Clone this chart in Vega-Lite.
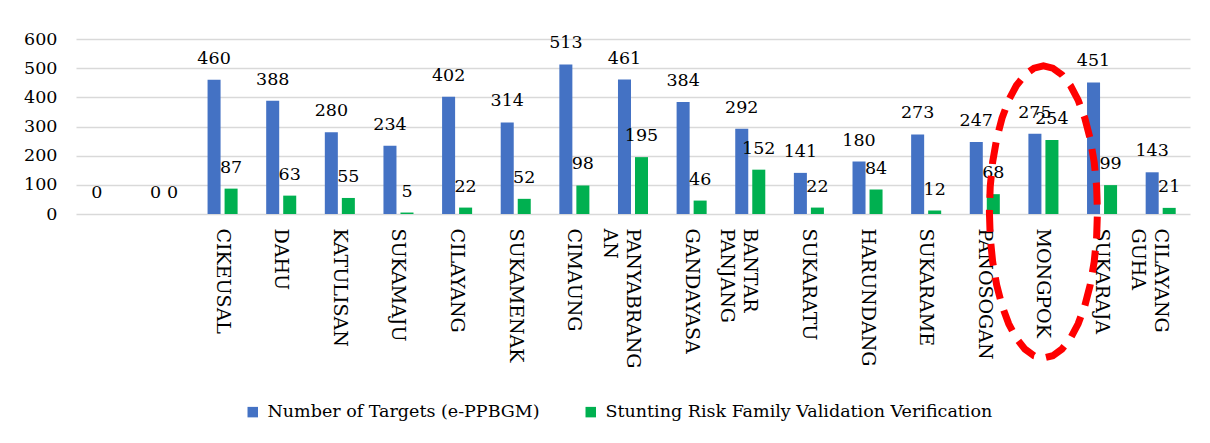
{
  "$schema": "https://vega.github.io/schema/vega-lite/v6.json",
  "width": 1114,
  "height": 175,
  "autosize": {"type": "none"},
  "padding": {"left": 76, "top": 39, "right": 20, "bottom": 229},
  "background": "white",
  "config": {
    "view": {"stroke": null},
    "font": "DejaVu Serif"
  },
  "datasets": {
    "bars": [
      {"village": "_1", "series": "Number of Targets (e-PPBGM)", "value": 0},
      {"village": "_1", "series": "Stunting Risk Family Validation Verification", "value": null},
      {"village": "_2", "series": "Number of Targets (e-PPBGM)", "value": 0},
      {"village": "_2", "series": "Stunting Risk Family Validation Verification", "value": 0},
      {"village": "CIKEUSAL", "series": "Number of Targets (e-PPBGM)", "value": 460},
      {"village": "CIKEUSAL", "series": "Stunting Risk Family Validation Verification", "value": 87},
      {"village": "DAHU", "series": "Number of Targets (e-PPBGM)", "value": 388},
      {"village": "DAHU", "series": "Stunting Risk Family Validation Verification", "value": 63},
      {"village": "KATULISAN", "series": "Number of Targets (e-PPBGM)", "value": 280},
      {"village": "KATULISAN", "series": "Stunting Risk Family Validation Verification", "value": 55},
      {"village": "SUKAMAJU", "series": "Number of Targets (e-PPBGM)", "value": 234},
      {"village": "SUKAMAJU", "series": "Stunting Risk Family Validation Verification", "value": 5},
      {"village": "CILAYANG", "series": "Number of Targets (e-PPBGM)", "value": 402},
      {"village": "CILAYANG", "series": "Stunting Risk Family Validation Verification", "value": 22},
      {"village": "SUKAMENAK", "series": "Number of Targets (e-PPBGM)", "value": 314},
      {"village": "SUKAMENAK", "series": "Stunting Risk Family Validation Verification", "value": 52},
      {"village": "CIMAUNG", "series": "Number of Targets (e-PPBGM)", "value": 513},
      {"village": "CIMAUNG", "series": "Stunting Risk Family Validation Verification", "value": 98},
      {"village": "PANYABRANGAN", "series": "Number of Targets (e-PPBGM)", "value": 461},
      {"village": "PANYABRANGAN", "series": "Stunting Risk Family Validation Verification", "value": 195},
      {"village": "GANDAYASA", "series": "Number of Targets (e-PPBGM)", "value": 384},
      {"village": "GANDAYASA", "series": "Stunting Risk Family Validation Verification", "value": 46},
      {"village": "BANTAR PANJANG", "series": "Number of Targets (e-PPBGM)", "value": 292},
      {"village": "BANTAR PANJANG", "series": "Stunting Risk Family Validation Verification", "value": 152},
      {"village": "SUKARATU", "series": "Number of Targets (e-PPBGM)", "value": 141},
      {"village": "SUKARATU", "series": "Stunting Risk Family Validation Verification", "value": 22},
      {"village": "HARUNDANG", "series": "Number of Targets (e-PPBGM)", "value": 180},
      {"village": "HARUNDANG", "series": "Stunting Risk Family Validation Verification", "value": 84},
      {"village": "SUKARAME", "series": "Number of Targets (e-PPBGM)", "value": 273},
      {"village": "SUKARAME", "series": "Stunting Risk Family Validation Verification", "value": 12},
      {"village": "PANOSOGAN", "series": "Number of Targets (e-PPBGM)", "value": 247},
      {"village": "PANOSOGAN", "series": "Stunting Risk Family Validation Verification", "value": 68},
      {"village": "MONGPOK", "series": "Number of Targets (e-PPBGM)", "value": 275},
      {"village": "MONGPOK", "series": "Stunting Risk Family Validation Verification", "value": 254},
      {"village": "SUKARAJA", "series": "Number of Targets (e-PPBGM)", "value": 451},
      {"village": "SUKARAJA", "series": "Stunting Risk Family Validation Verification", "value": 99},
      {"village": "CILAYANG GUHA", "series": "Number of Targets (e-PPBGM)", "value": 143},
      {"village": "CILAYANG GUHA", "series": "Stunting Risk Family Validation Verification", "value": 21}
    ],
    "highlight": [
      {"village": "MONGPOK", "value": 7}
    ]
  },
  "encoding": {
    "x": {
      "field": "village",
      "type": "nominal",
      "sort": ["_1", "_2", "CIKEUSAL", "DAHU", "KATULISAN", "SUKAMAJU", "CILAYANG", "SUKAMENAK", "CIMAUNG", "PANYABRANGAN", "GANDAYASA", "BANTAR PANJANG", "SUKARATU", "HARUNDANG", "SUKARAME", "PANOSOGAN", "MONGPOK", "SUKARAJA", "CILAYANG GUHA"],
      "scale": {"paddingInner": 0, "paddingOuter": 0},
      "axis": {
        "title": null,
        "domain": false,
        "ticks": false,
        "labelAngle": 90,
        "labelAlign": "left",
        "labelBaseline": "middle",
        "labelPadding": 14,
        "labelFont": "DejaVu Serif",
        "labelFontSize": 19,
        "labelColor": "#000000",
        "labelLineHeight": 23,
        "labelOverlap": false,
        "labelBound": false,
        "labelLimit": 400,
        "labelExpr": "indexof(datum.value,'_')==0 ? '' : datum.value=='PANYABRANGAN' ? ['PANYABRANG','AN'] : datum.value=='BANTAR PANJANG' ? ['BANTAR','PANJANG'] : datum.value=='CILAYANG GUHA' ? ['CILAYANG','GUHA'] : datum.value"
      }
    },
    "y": {
      "field": "value",
      "type": "quantitative",
      "scale": {"domain": [0, 600], "nice": false},
      "axis": {
        "title": null,
        "values": [0, 100, 200, 300, 400, 500, 600],
        "grid": true,
        "gridColor": "#d9d9d9",
        "gridWidth": 1.5,
        "domain": false,
        "ticks": false,
        "labelOverlap": false,
        "labelPadding": 19,
        "labelFont": "DejaVu Serif",
        "labelFontSize": 17.5,
        "labelColor": "#000000"
      }
    }
  },
  "layer": [
    {
      "data": {"name": "bars"},
      "mark": {"type": "bar"},
      "encoding": {
        "xOffset": {
          "field": "series",
          "type": "nominal",
          "sort": ["Number of Targets (e-PPBGM)", "Stunting Risk Family Validation Verification"],
          "scale": {"paddingInner": 0.235, "paddingOuter": 0.84}
        },
        "color": {
          "field": "series",
          "type": "nominal",
          "scale": {
            "domain": ["Number of Targets (e-PPBGM)", "Stunting Risk Family Validation Verification"],
            "range": ["#4472C4", "#00B050"]
          },
          "legend": {
            "title": null,
            "orient": "none",
            "legendX": 168,
            "legendY": 364,
            "direction": "horizontal",
            "symbolType": "square",
            "symbolSize": 110,
            "symbolStrokeWidth": 0,
            "labelFont": "DejaVu Serif",
            "labelFontSize": 17.5,
            "labelColor": "#000000",
            "labelOffset": 6,
            "columnPadding": 42,
            "labelLimit": 600
          }
        }
      }
    },
    {
      "data": {"name": "bars"},
      "transform": [{"filter": "isValid(datum.value)"}],
      "mark": {
        "type": "text",
        "font": "DejaVu Serif",
        "fontSize": 17.5,
        "fill": "#000000",
        "baseline": "alphabetic",
        "align": "center",
        "dy": -16
      },
      "encoding": {
        "xOffset": {
          "field": "series",
          "type": "nominal",
          "sort": ["Number of Targets (e-PPBGM)", "Stunting Risk Family Validation Verification"],
          "scale": {"paddingInner": 0.235, "paddingOuter": 0.84}
        },
        "text": {"field": "value", "type": "quantitative"}
      }
    },
    {
      "data": {"name": "highlight"},
      "mark": {
        "type": "point",
        "shape": "M 0 -1 L 0.0643 -0.9848 L 0.1265 -0.9397 L 0.185 -0.866 L 0.2378 -0.766 L 0.2834 -0.6428 L 0.3204 -0.5 L 0.3477 -0.342 L 0.3644 -0.1736 L 0.37 0 L 0.3644 0.1736 L 0.3477 0.342 L 0.3204 0.5 L 0.2834 0.6428 L 0.2378 0.766 L 0.185 0.866 L 0.1265 0.9397 L 0.0643 0.9848 L 0 1 L -0.0643 0.9848 L -0.1265 0.9397 L -0.185 0.866 L -0.2378 0.766 L -0.2834 0.6428 L -0.3204 0.5 L -0.3477 0.342 L -0.3644 0.1736 L -0.37 0 L -0.3644 -0.1736 L -0.3477 -0.342 L -0.3204 -0.5 L -0.2834 -0.6428 L -0.2378 -0.766 L -0.185 -0.866 L -0.1265 -0.9397 L -0.0643 -0.9848 Z",
        "size": 85264,
        "filled": false,
        "stroke": "#FF0000",
        "strokeWidth": 7,
        "strokeDash": [22, 12],
        "opacity": 1
      }
    }
  ]
}
